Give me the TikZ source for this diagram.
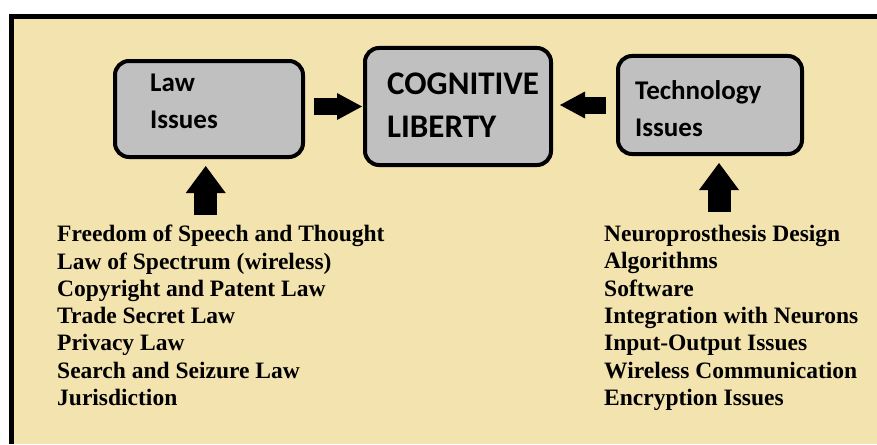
\documentclass[tikz,border=0pt]{standalone}
\usepackage{fontspec}
\setmainfont{Liberation Serif}
\newfontfamily\calib{Carlito}
\usetikzlibrary{arrows.meta}
\definecolor{paper}{RGB}{243,227,174}
\definecolor{boxgray}{RGB}{192,192,192}

\begin{document}
\begin{tikzpicture}[x=1pt,y=-1pt,
  issue/.style={draw,line width=4pt,rounded corners=14pt,fill=boxgray},
  boxtext/.style={inner sep=0pt,anchor=west,align=left,font=\calib\bfseries\fontsize{27}{37}\selectfont},
  topics/.style={inner sep=0pt,anchor=north west,align=left,font=\bfseries\fontsize{23.5}{27.3}\selectfont},
  sidearrow/.style={line width=17pt,-{Triangle[length=25pt,width=27pt,line width=0pt]}},
  uparrow/.style={line width=23pt,-{Triangle[length=27pt,width=40pt,line width=0pt]}}]
\useasboundingbox (0,0) rectangle (877,444);
\fill[white] (0,0) rectangle (877,444);
\fill[black] (9,14) rectangle (877,444);
\fill[paper] (14,19) rectangle (877,444);

% the three boxes
\node[issue,minimum width=188pt,minimum height=96pt] (law) at (209,109) {};
\node[issue,minimum width=186pt,minimum height=117pt] (cog) at (458,106.5) {};
\node[issue,minimum width=184pt,minimum height=98pt] (tech) at (710,105) {};
\node[boxtext] (lawtxt) at (150,101) {Law\\Issues};
\node[boxtext,font=\calib\bfseries\fontsize{33}{43}\selectfont] (cogtxt) at (387,105.5) {COGNITIVE\\LIBERTY};
\node[boxtext] (techtxt) at (635,108.6) {Technology\\Issues};

% topic lists
\node[topics] (lawlist) at (57,225) {Freedom of Speech and Thought\\Law of Spectrum (wireless)\\Copyright and Patent Law\\Trade Secret Law\\Privacy Law\\Search and Seizure Law\\Jurisdiction};
\node[topics] (techlist) at (604,225) {Neuroprosthesis Design\\Algorithms\\Software\\Integration with Neurons\\Input-Output Issues\\Wireless Communication\\Encryption Issues};

% arrows
\coordinate (lawfoot) at (205.7,215);
\coordinate (techfoot) at (719,212);
\draw[sidearrow,shorten <=9pt,shorten >=1pt] (law.east |- cog.west) -- (cog.west);
\draw[sidearrow,shorten <=10pt,shorten >=7pt] (tech.west) -- (tech.west -| cog.east);
\draw[uparrow,shorten >=7pt] (lawfoot) -- (law.south -| lawfoot);
\draw[uparrow,shorten >=7pt] (techfoot) -- (tech.south -| techfoot);
\end{tikzpicture}
\end{document}
